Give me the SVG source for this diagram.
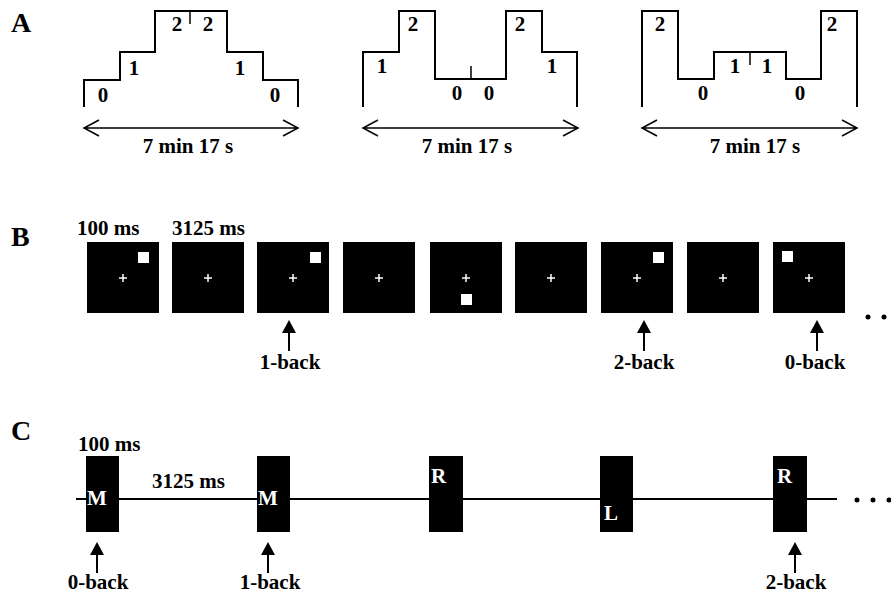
<svg xmlns="http://www.w3.org/2000/svg" width="891" height="594" viewBox="0 0 891 594" font-family="Liberation Serif, DejaVu Serif, Times New Roman, serif" font-weight="bold">
<style>
text{font-family:'Liberation Serif','DejaVu Serif','Times New Roman',Times,serif;font-weight:700;fill:#000}
.panel{font-size:28px}
.lbl{font-size:21px}
.num{font-size:21px;text-anchor:middle}
.mid{text-anchor:middle}
.wt{fill:#fff;font-size:21px}
.stair{fill:none;stroke:#000;stroke-width:2}
.tick{stroke:#000;stroke-width:1.5}
.dbl{stroke:#000;stroke-width:1.5;fill:none}
.box{fill:#000}
.cross{stroke:#fff;stroke-width:1.5}
.sq{fill:#fff}
.up{stroke:#000;stroke-width:2}
.uphead{fill:#000}
.tl{stroke:#000;stroke-width:2}
</style>
<defs>
<g id="crossG"><line class="cross" x1="-4" y1="0" x2="4" y2="0"/><line class="cross" x1="0" y1="-4" x2="0" y2="4"/></g>
<g id="upArrow"><path class="uphead" d="M0,0 L-7,13 L7,13 Z"/><line class="up" x1="0" y1="12" x2="0" y2="31"/></g>
</defs>

<!-- Panel A -->
<g id="panelA">
<text class="panel" x="11" y="32">A</text>
<g id="a1">
<path class="stair" d="M84,107 V80 H120 V52 H155 V11 H227 V52 H263 V80 H298 V107"/>
<line class="tick" x1="190" y1="11" x2="190" y2="24"/>
<text class="num" x="103" y="102">0</text>
<text class="num" x="134" y="75">1</text>
<text class="num" x="177" y="31">2</text>
<text class="num" x="208" y="31">2</text>
<text class="num" x="240" y="75">1</text>
<text class="num" x="275" y="102">0</text>
<path class="dbl" d="M84,128 H298 M99,120 L84,128 L99,136 M283,120 L298,128 L283,136"/>
<text class="lbl mid" x="188" y="153">7 min 17 s</text>
</g>
<g id="a2">
<path class="stair" d="M363,107 V52 H399 V11 H435 V79 H506 V11 H542 V52 H577 V107"/>
<line class="tick" x1="471" y1="66" x2="471" y2="79"/>
<text class="num" x="382" y="73">1</text>
<text class="num" x="413" y="31">2</text>
<text class="num" x="457" y="100">0</text>
<text class="num" x="489" y="100">0</text>
<text class="num" x="520" y="31">2</text>
<text class="num" x="552" y="73">1</text>
<path class="dbl" d="M363,128 H578 M378,120 L363,128 L378,136 M563,120 L578,128 L563,136"/>
<text class="lbl mid" x="467" y="153">7 min 17 s</text>
</g>
<g id="a3">
<path class="stair" d="M642,107 V11 H678 V79 H714 V52 H786 V79 H821 V11 H857 V107"/>
<line class="tick" x1="750" y1="52" x2="750" y2="65"/>
<text class="num" x="660" y="31">2</text>
<text class="num" x="703" y="100">0</text>
<text class="num" x="735" y="73">1</text>
<text class="num" x="767" y="73">1</text>
<text class="num" x="800" y="100">0</text>
<text class="num" x="832" y="31">2</text>
<path class="dbl" d="M642,128 H857 M657,120 L642,128 L657,136 M842,120 L857,128 L842,136"/>
<text class="lbl mid" x="755" y="153">7 min 17 s</text>
</g>
</g>

<!-- Panel B -->
<g id="panelB">
<text class="panel" x="11" y="246">B</text>
<text class="lbl" x="77" y="235">100 ms</text>
<text class="lbl" x="172" y="235">3125 ms</text>
<g id="b1"><rect class="box" x="87" y="242" width="72" height="71"/><use href="#crossG" x="123" y="278"/><rect class="sq" x="138" y="252" width="11" height="11"/></g>
<g id="b2"><rect class="box" x="172" y="242" width="72" height="71"/><use href="#crossG" x="208" y="278"/></g>
<g id="b3"><rect class="box" x="257" y="242" width="72" height="71"/><use href="#crossG" x="293" y="278"/><rect class="sq" x="310" y="252" width="11" height="11"/></g>
<g id="b4"><rect class="box" x="343" y="242" width="72" height="71"/><use href="#crossG" x="379" y="278"/></g>
<g id="b5"><rect class="box" x="430" y="242" width="72" height="71"/><use href="#crossG" x="466" y="278"/><rect class="sq" x="461" y="294" width="11" height="11"/></g>
<g id="b6"><rect class="box" x="515" y="242" width="72" height="71"/><use href="#crossG" x="551" y="278"/></g>
<g id="b7"><rect class="box" x="601" y="242" width="72" height="71"/><use href="#crossG" x="637" y="278"/><rect class="sq" x="653" y="252" width="11" height="11"/></g>
<g id="b8"><rect class="box" x="687" y="242" width="72" height="71"/><use href="#crossG" x="723" y="278"/></g>
<g id="b9"><rect class="box" x="773" y="242" width="72" height="71"/><use href="#crossG" x="809" y="278"/><rect class="sq" x="782" y="251" width="11" height="11"/></g>
<g id="bArrows">
<use href="#upArrow" x="289" y="320"/>
<use href="#upArrow" x="644" y="320"/>
<use href="#upArrow" x="817" y="320"/>
</g>
<text class="lbl mid" x="290" y="369">1-back</text>
<text class="lbl mid" x="644" y="369">2-back</text>
<text class="lbl mid" x="815" y="369">0-back</text>
<circle cx="868" cy="317" r="2.5"/><circle cx="884" cy="317" r="2.5"/><circle cx="900" cy="317" r="2.5"/>
</g>

<!-- Panel C -->
<g id="panelC">
<text class="panel" x="11" y="440">C</text>
<text class="lbl" x="78" y="451">100 ms</text>
<text class="lbl" x="152" y="488">3125 ms</text>
<g id="connectors"><line class="tl" x1="76" y1="499" x2="837" y2="499"/></g>
<g id="c1"><rect class="box" x="86" y="456" width="33" height="76"/><text class="wt" x="87" y="505">M</text></g>
<g id="c2"><rect class="box" x="257" y="456" width="33" height="76"/><text class="wt" x="258" y="505">M</text></g>
<g id="c3"><rect class="box" x="429" y="456" width="34" height="76"/><text class="wt" x="431" y="483">R</text></g>
<g id="c4"><rect class="box" x="600" y="456" width="33" height="76"/><text class="wt" x="604" y="520">L</text></g>
<g id="c5"><rect class="box" x="773" y="456" width="34" height="76"/><text class="wt" x="777" y="483">R</text></g>
<g id="cArrows">
<use href="#upArrow" x="97" y="542"/>
<use href="#upArrow" x="268" y="542"/>
<use href="#upArrow" x="795" y="542"/>
</g>
<text class="lbl mid" x="98" y="589">0-back</text>
<text class="lbl mid" x="270" y="589">1-back</text>
<text class="lbl mid" x="796" y="589">2-back</text>
<circle cx="857" cy="500" r="2.5"/><circle cx="873" cy="500" r="2.5"/><circle cx="889" cy="500" r="2.5"/>
</g>
</svg>
